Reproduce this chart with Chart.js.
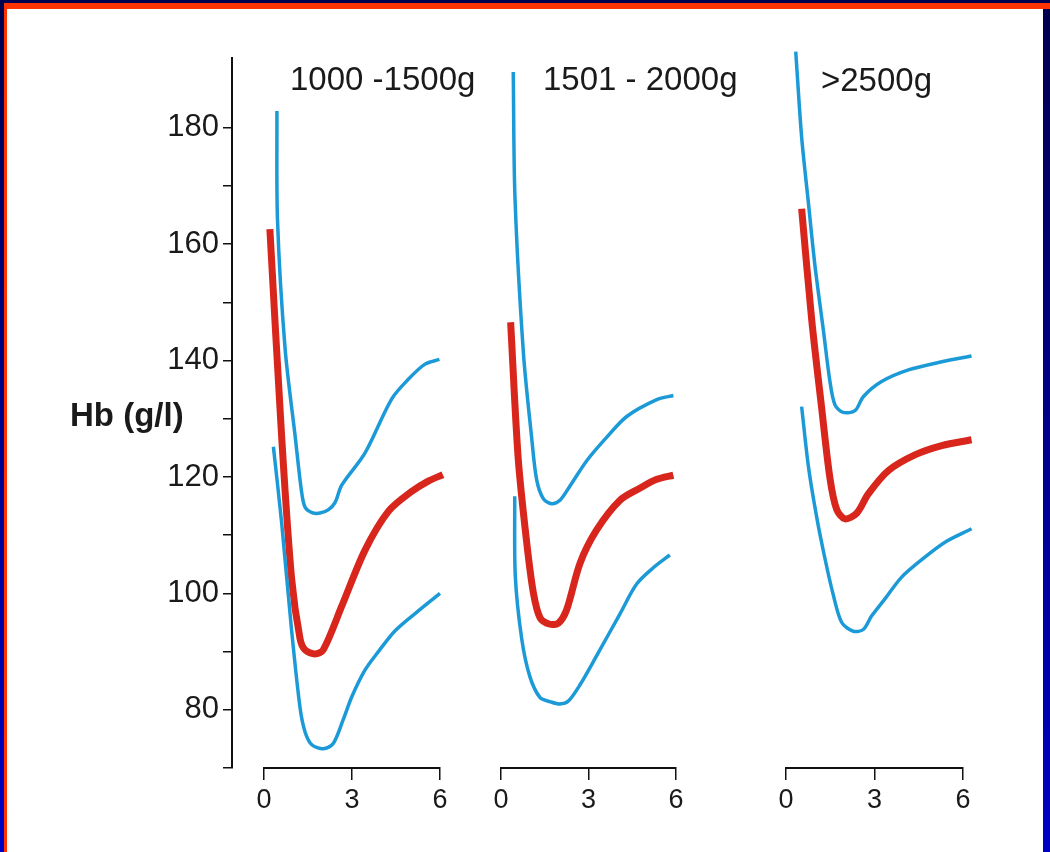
<!DOCTYPE html>
<html>
<head>
<meta charset="utf-8">
<script src="https://cdn.jsdelivr.net/npm/chart.js@4"></script>
<style>
  body { margin: 0; width: 1050px; height: 852px; overflow: hidden;
         background: linear-gradient(#00004e, #0000c4); position: relative;
         font-family: "Liberation Sans", Arial, sans-serif; }
  #paper { position: absolute; left: 4px; top: 3px; width: 1039px; height: 849px;
           background: #fff; border-left: 3px solid #ff3300; box-sizing: border-box; }
  #topband { position: absolute; left: 4px; right: 0; top: 3px; height: 6px; background: #ff3300; }
  canvas { position: absolute; left: 0; top: 0; }
  .lbl { position: absolute; font-size: 33px; line-height: 33px; color: #1a1a1a; white-space: pre; }
</style>
</head>
<body>
<div id="paper"></div>
<div id="topband"></div>
<canvas id="yaxis" width="1050" height="852"></canvas>
<canvas id="p1" width="1050" height="852"></canvas>
<canvas id="p2" width="1050" height="852"></canvas>
<canvas id="p3" width="1050" height="852"></canvas>
<div class="lbl" style="left:70px; top:398px; font-weight:bold;">Hb (g/l)</div>
<div class="lbl" style="left:290px; top:62px;">1000 -1500g</div>
<div class="lbl" style="left:543px; top:62px;">1501 - 2000g</div>
<div class="lbl" style="left:821px; top:63px;">&gt;2500g</div>
<script>
// y axis
const yMin = 70, yMax = 192;
const yTickValues = [70, 80, 90, 100, 110, 120, 130, 140, 150, 160, 170, 180];
const yLabelled = [80, 100, 120, 140, 160, 180];
const xTicks = [0, 3, 6];

// [age, Hb] pairs per panel: upper limit, mean, lower limit
const p1Upper = [[0.44,182.9],[0.46,164.2],[0.72,142.0],[1.06,127.1],[1.28,117.5],[1.4,114.8],[1.63,113.9],[1.91,113.8],[2.2,114.4],[2.42,115.6],[2.65,118.6],[3.44,124.1],[4.35,133.4],[4.92,136.8],[5.49,139.4],[5.98,140.2]];
const p1Mean  = [[0.2,162.6],[0.6,127.1],[0.94,102.6],[1.23,92.2],[1.4,90.3],[1.74,89.6],[2.02,90.3],[2.65,97.8],[3.44,107.4],[4.24,114.1],[5.03,117.5],[5.6,119.3],[6.1,120.4]];
const p1Lower = [[0.32,125.2],[0.6,112.2],[0.94,93.7],[1.23,80.3],[1.4,76.2],[1.63,74.0],[2.02,73.3],[2.36,74.2],[2.7,78.3],[2.99,82.2],[3.44,86.8],[3.9,90.0],[4.47,93.6],[5.26,97.0],[6.0,100.0]];

const p2Upper = [[0.42,189.6],[0.48,167.9],[0.77,141.2],[1.05,126.8],[1.22,119.6],[1.45,116.3],[1.74,115.4],[2.02,116.0],[2.37,118.5],[2.94,122.8],[3.62,126.8],[4.31,130.4],[5.34,133.3],[5.91,134.0]];
const p2Mean  = [[0.33,146.6],[0.59,123.2],[0.88,108.8],[1.11,100.1],[1.34,95.8],[1.68,94.7],[1.97,94.9],[2.25,97.2],[2.71,105.2],[3.28,110.9],[4.08,116.0],[4.77,118.1],[5.34,119.6],[5.91,120.3]];
const p2Lower = [[0.47,116.7],[0.49,103.0],[0.71,92.2],[0.99,85.7],[1.34,82.1],[1.68,81.4],[2.02,81.0],[2.31,81.5],[2.71,84.3],[3.28,89.3],[4.08,96.5],[4.65,101.6],[5.22,104.4],[5.79,106.6]];

const p3Upper = [[0.33,193.1],[0.53,178.4],[0.76,167.1],[0.98,156.4],[1.27,145.1],[1.49,136.4],[1.66,132.4],[1.94,131.1],[2.34,131.4],[2.62,133.8],[3.24,136.4],[4.15,138.4],[5.28,139.8],[6.29,140.8]];
const p3Mean  = [[0.53,166.1],[0.87,147.1],[1.21,131.8],[1.49,119.8],[1.72,114.4],[2.0,112.8],[2.4,113.8],[2.79,117.1],[3.47,121.1],[4.37,123.8],[5.28,125.4],[6.29,126.4]];
const p3Lower = [[0.53,132.1],[0.76,121.8],[1.04,113.1],[1.32,106.0],[1.6,99.8],[1.89,95.0],[2.28,93.5],[2.62,93.8],[2.9,96.1],[3.36,99.1],[3.92,102.8],[4.6,105.8],[5.39,108.8],[6.29,111.1]];

const BLUE = '#1b9ad7', RED = '#d8261d', INK = '#1a1a1a';
Chart.defaults.font.family = '"Liberation Sans", Arial, sans-serif';
Chart.defaults.color = INK;

// chart area: top 58, bottom 768; y axis line at x = 232
new Chart(document.getElementById('yaxis'), {
  type: 'line',
  data: { datasets: [] },
  options: {
    responsive: false, animation: false,
    layout: { padding: { top: 58, bottom: 84, left: 132, right: 700 } },
    plugins: { legend: { display: false }, tooltip: { enabled: false } },
    scales: {
      x: { type: 'linear', display: false },
      y: {
        min: yMin, max: yMax,
        afterBuildTicks: s => { s.ticks = yTickValues.map(v => ({ value: v })); },
        afterFit: s => { s.width = 100; },
        ticks: {
          font: { size: 31 }, color: INK, padding: 4,
          callback: v => yLabelled.includes(v) ? String(v) : ''
        },
        grid: { drawOnChartArea: false, drawTicks: true, tickLength: 9, color: '#111', lineWidth: 1.5 },
        border: { display: true, color: '#111', width: 2 }
      }
    }
  }
});

function panel(id, left, right, upper, mean, lower) {
  const line = (d, c, w) => ({ data: d, borderColor: c, borderWidth: w, pointRadius: 0,
    tension: 0.3, fill: false, clip: false, borderCapStyle: 'butt', borderJoinStyle: 'round' });
  new Chart(document.getElementById(id), {
    type: 'line',
    data: { datasets: [line(upper, BLUE, 3.5), line(lower, BLUE, 3.5), line(mean, RED, 7)] },
    options: {
      responsive: false, animation: false,
      layout: { padding: { top: 58, bottom: 852 - 768 - 45, left: left, right: 1050 - right } },
      plugins: { legend: { display: false }, tooltip: { enabled: false } },
      scales: {
        x: {
          type: 'linear', min: 0, max: 6,
          afterBuildTicks: s => { s.ticks = xTicks.map(v => ({ value: v })); },
          afterFit: s => { s.height = 45; },
          ticks: { font: { size: 27 }, color: INK, padding: 4 },
          grid: { drawOnChartArea: false, drawTicks: true, tickLength: 12, color: '#111', lineWidth: 1.5 },
          border: { display: true, color: '#111', width: 2 }
        },
        y: { display: false, min: yMin, max: yMax }
      }
    }
  });
}

panel('p1', 264, 440, p1Upper, p1Mean, p1Lower);
panel('p2', 501, 676, p2Upper, p2Mean, p2Lower);
panel('p3', 786, 963, p3Upper, p3Mean, p3Lower);
</script>
</body>
</html>
